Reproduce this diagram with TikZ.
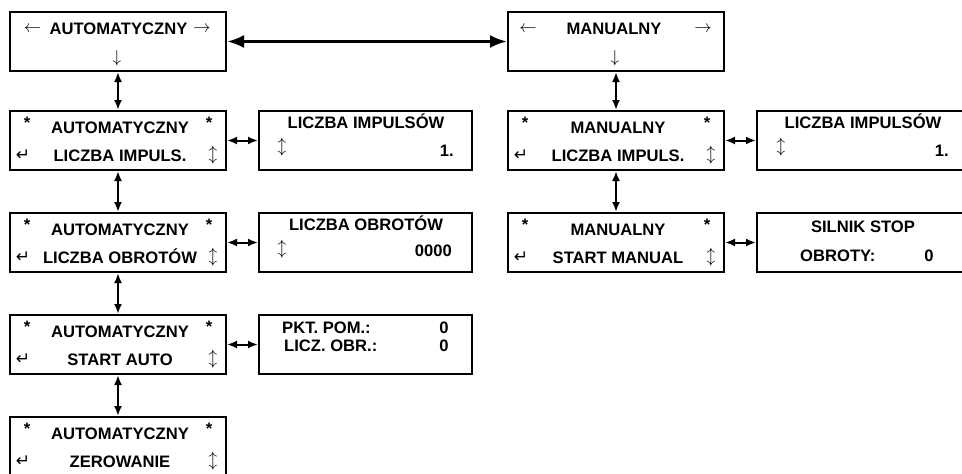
\documentclass[tikz,border=0pt]{standalone}
\usepackage{fontspec}
\setmainfont{Liberation Sans}
\newfontfamily\symfont{DejaVu Sans}
\usetikzlibrary{positioning,arrows.meta}

% text of one menu screen: box name, title, item
\newcommand{\menuscreen}[3]{
  \node[txt] (#1-sl) at ([shift={(18,12.5)}]#1.north west) {*};
  \node[txt] (#1-t) at ([shift={(111,17)}]#1.north west) {#2};
  \node[txt] (#1-sr) at ([shift={(200,12.5)}]#1.north west) {*};
  \node[sym,font=\fontsize{17}{20}\selectfont\symfont] (#1-e) at ([shift={(14,45)}]#1.north west) {↵};
  \node[txt] (#1-i) at ([shift={(111,45)}]#1.north west) {#3};
  \node[sym,font=\fontsize{16}{19}\selectfont] (#1-u) at ([shift={(204,45)}]#1.north west) {$\updownarrow$};
}

\begin{document}
\begin{tikzpicture}[x=1pt,y=-1pt,
  scr/.style={draw,line width=2pt,minimum width=216pt,minimum height=59pt,inner sep=0pt},
  panel/.style={scr,minimum width=213pt},
  txt/.style={inner sep=0pt,font=\fontsize{16.6}{20}\selectfont\bfseries,text height=12pt,text depth=0pt},
  sym/.style={inner sep=0pt,font=\fontsize{18}{22}\selectfont},
  link/.style={line width=2pt,{Latex[length=10pt,width=8pt]}-{Latex[length=10pt,width=8pt]}},
  biglink/.style={line width=3pt,{Latex[length=17pt,width=13pt]}-{Latex[length=17pt,width=13pt]}}]
\clip (0,0) rectangle (962,474);

% screens
\node[scr] (auto) at (118,41.5) {};
\node[scr,right=280pt of auto] (man) {};
\node[scr,below=38pt of auto] (aimp) {};
\node[scr,below=41pt of aimp] (aobr) {};
\node[scr,below=41pt of aobr] (astart) {};
\node[scr,below=41pt of astart] (azero) {};
\node[panel,right=31pt of aimp] (aimpv) {};
\node[panel,right=31pt of aobr] (aobrv) {};
\node[panel,right=31pt of astart] (astartv) {};
\node[scr,below=38pt of man] (mimp) {};
\node[scr,below=41pt of mimp] (mstart) {};
\node[panel,right=31pt of mimp] (mimpv) {};
\node[panel,right=31pt of mstart] (mstartv) {};

% top screens
\node[sym] (auto-l) at ([shift={(23.5,18)}]auto.north west) {$\leftarrow$};
\node[txt] (auto-t) at ([shift={(109.5,17)}]auto.north west) {AUTOMATYCZNY};
\node[sym] (auto-r) at ([shift={(193,18)}]auto.north west) {$\rightarrow$};
\node[sym,font=\fontsize{16}{19}\selectfont] (auto-d) at ([shift={(108,47)}]auto.north west) {$\downarrow$};
\node[sym] (man-l) at ([shift={(21,18)}]man.north west) {$\leftarrow$};
\node[txt] (man-t) at ([shift={(107,17)}]man.north west) {MANUALNY};
\node[sym] (man-r) at ([shift={(196,18)}]man.north west) {$\rightarrow$};
\node[sym,font=\fontsize{16}{19}\selectfont] (man-d) at ([shift={(108,47)}]man.north west) {$\downarrow$};

% menu screens
\menuscreen{aimp}{AUTOMATYCZNY}{LICZBA IMPULS.}
\menuscreen{aobr}{AUTOMATYCZNY}{LICZBA OBROTÓW}
\menuscreen{astart}{AUTOMATYCZNY}{START AUTO}
\menuscreen{azero}{AUTOMATYCZNY}{ZEROWANIE}
\menuscreen{mimp}{MANUALNY}{LICZBA IMPULS.}
\menuscreen{mstart}{MANUALNY}{START MANUAL}

% value screens
\node[txt] (aimpv-h) at ([shift={(108,12)}]aimpv.north west) {LICZBA IMPULSÓW};
\node[sym,font=\fontsize{16}{19}\selectfont] (aimpv-u) at ([shift={(24,37)}]aimpv.north west) {$\updownarrow$};
\node[txt,anchor=east] (aimpv-v) at ([shift={(196,40)}]aimpv.north west) {1.};
\node[txt] (aobrv-h) at ([shift={(108,12)}]aobrv.north west) {LICZBA OBROTÓW};
\node[sym,font=\fontsize{16}{19}\selectfont] (aobrv-u) at ([shift={(24,37)}]aobrv.north west) {$\updownarrow$};
\node[txt,anchor=east] (aobrv-v) at ([shift={(194,38)}]aobrv.north west) {0000};
\node[txt,anchor=west] (astartv-p) at ([shift={(24,13)}]astartv.north west) {PKT. POM.:};
\node[txt] (astartv-pv) at ([shift={(186,13)}]astartv.north west) {0};
\node[txt,anchor=west] (astartv-l) at ([shift={(26,31)}]astartv.north west) {LICZ. OBR.:};
\node[txt] (astartv-lv) at ([shift={(186,31)}]astartv.north west) {0};
\node[txt] (mimpv-h) at ([shift={(107,12)}]mimpv.north west) {LICZBA IMPULSÓW};
\node[sym,font=\fontsize{16}{19}\selectfont] (mimpv-u) at ([shift={(25,37)}]mimpv.north west) {$\updownarrow$};
\node[txt,anchor=east] (mimpv-v) at ([shift={(193,40)}]mimpv.north west) {1.};
\node[txt] (mstartv-h) at ([shift={(107,14)}]mstartv.north west) {SILNIK STOP};
\node[txt,anchor=west] (mstartv-o) at ([shift={(44,43)}]mstartv.north west) {OBROTY:};
\node[txt] (mstartv-ov) at ([shift={(173,43)}]mstartv.north west) {0};

% connections
\draw[biglink] (auto) -- (man);
\draw[link] (auto) -- (aimp);
\draw[link] (aimp) -- (aobr);
\draw[link] (aobr) -- (astart);
\draw[link] (astart) -- (azero);
\draw[link] (aimp) -- (aimpv);
\draw[link] (aobr) -- (aobrv);
\draw[link] (astart) -- (astartv);
\draw[link] (man) -- (mimp);
\draw[link] (mimp) -- (mstart);
\draw[link] (mimp) -- (mimpv);
\draw[link] (mstart) -- (mstartv);
\end{tikzpicture}
\end{document}
